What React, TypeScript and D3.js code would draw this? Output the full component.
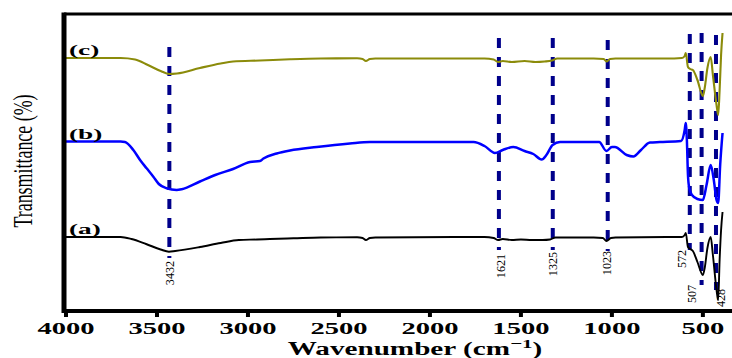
import React from 'react';
import * as d3 from 'd3';

// FTIR spectra, wavenumber (cm-1) vs transmittance (arbitrary offset units)
const curveA: [number, number][] = [
  [4000, 74], [3700, 74], [3640, 72], [3560, 67], [3480, 61.5], [3434, 59.3], [3400, 60],
  [3264, 64], [3150, 68], [3050, 71], [2950, 71.5], [2880, 72], [2750, 72.7], [2600, 73.5],
  [2400, 73.7], [2370, 73], [2352, 71], [2330, 73], [2300, 73.5], [1700, 74], [1650, 73],
  [1625, 71], [1600, 72], [1550, 71], [1500, 71.5], [1440, 71], [1380, 71], [1340, 71.5],
  [1310, 73.5], [1100, 73.5], [1050, 73], [1030, 70], [1005, 73], [980, 73.5], [700, 74],
  [615, 74], [600, 76], [594, 78], [582, 64], [570, 62], [555, 60], [530, 49], [500, 36],
  [490, 43], [475, 63], [457, 74], [445, 56], [425, 21], [416, 11], [408, 51], [400, 81],
  [392, 99],
];

const curveB: [number, number][] = [
  [4000, 169.5], [3700, 169.5], [3676, 169], [3630, 161], [3593, 151], [3557, 142.7],
  [3520, 134.3], [3490, 127], [3447, 122.7], [3392, 121], [3364, 121.7], [3264, 129.5],
  [3180, 136], [3082, 142], [2989, 149], [2934, 150], [2915, 152.5], [2842, 157.5],
  [2769, 160.5], [2622, 164], [2440, 167.5], [2330, 169], [1760, 169], [1700, 165],
  [1643, 158], [1600, 161], [1542, 164], [1480, 160], [1432, 157], [1386, 151.5],
  [1360, 156], [1326, 166], [1285, 169], [1070, 169], [1030, 160], [1000, 164], [984, 164],
  [919, 156], [882, 154.5], [840, 161], [791, 168.5], [736, 169], [620, 170], [600, 181],
  [594, 188], [588, 171], [582, 136], [575, 123], [560, 116], [530, 112], [500, 111],
  [480, 126], [457, 146], [440, 131], [425, 111], [416, 108], [405, 146], [392, 178],
];

const curveC: [number, number][] = [
  [4000, 253], [3700, 253], [3620, 251.5], [3550, 246], [3480, 240], [3432, 237],
  [3390, 237.5], [3264, 243], [3150, 247.5], [3082, 249.5], [2934, 250.5], [2769, 251.7],
  [2600, 252.5], [2400, 252.7], [2370, 252], [2352, 250], [2330, 252], [2300, 252.5],
  [1700, 252.5], [1650, 251.5], [1625, 249], [1600, 250], [1550, 249], [1480, 250],
  [1420, 249], [1370, 249.5], [1330, 250.5], [1300, 252.5], [1100, 252.5], [1045, 252],
  [1030, 249.5], [1010, 252], [980, 252.5], [700, 252.5], [615, 253], [600, 255],
  [594, 258], [582, 244], [570, 242], [555, 241], [530, 231], [500, 215], [490, 223],
  [475, 243], [457, 254], [445, 236], [425, 206], [416, 196], [408, 221], [400, 256],
  [392, 278],
];

const seriesNames = ['(a)', '(b)', '(c)'];
const peaks = [3432, 1621, 1325, 1023, 572, 507, 428];
const xTicks = [4000, 3500, 3000, 2500, 2000, 1500, 1000, 500];

// layout of each peak marker: dashed top, dashed bottom, label dx, label centre y
const peakLayout = [
  { top: 47, bottom: 258, dx: 0, ly: 273 },
  { top: 38, bottom: 250, dx: 2, ly: 266 },
  { top: 38, bottom: 250, dx: 0, ly: 264 },
  { top: 40, bottom: 251, dx: -1, ly: 263 },
  { top: 34, bottom: 250, dx: -8, ly: 259 },
  { top: 33, bottom: 285, dx: -10, ly: 294 },
  { top: 35, bottom: 290, dx: 5, ly: 298 },
];

const W = 732;
const H = 358;
const left = 66;
const top = 14;
const bottom = 311;
const font = '"Liberation Serif", "Times New Roman", serif';

export default function App() {
  const x = d3.scaleLinear().domain([4000, 340]).range([left, W]);
  const y = d3.scaleLinear().domain([0, 297]).range([bottom, top]);
  const line = d3
    .line<[number, number]>()
    .x((d) => x(d[0]))
    .y((d) => y(d[1]))
    .curve(d3.curveMonotoneX);

  const series = [
    { data: curveA, color: '#000000', width: 1.9 },
    { data: curveB, color: '#0000ff', width: 2.5 },
    { data: curveC, color: '#8b8b0a', width: 2.1 },
  ];

  return (
    <svg
      width={W}
      height={H}
      style={{ position: 'absolute', left: 0, top: 0, background: '#fff' }}
      fontFamily={font}
    >
      {/* peak markers */}
      {peaks.map((p, i) => {
        const l = peakLayout[i];
        const px = x(p);
        const lx = px + l.dx;
        return (
          <g key={p}>
            <line
              x1={px}
              x2={px}
              y1={l.top}
              y2={l.bottom}
              stroke="#00008b"
              strokeWidth={4}
              strokeDasharray="10,9"
            />
            <text
              transform={`translate(${lx + 4.5},${l.ly}) rotate(-90) scale(0.9,1)`}
              textAnchor="middle"
              fontSize={13.5}
              fill="#000"
            >
              {p}
            </text>
          </g>
        );
      })}

      {/* spectra */}
      {series.map((s, i) => (
        <path
          key={i}
          d={line(s.data) || ''}
          fill="none"
          stroke={s.color}
          strokeWidth={s.width}
          strokeLinejoin="round"
        />
      ))}

      {/* series labels */}
      {series.map((s, i) => (
        <text
          key={seriesNames[i]}
          transform={`translate(${left + 3},${y(s.data[0][1]) - 3}) scale(1.95,1)`}
          fontSize={14}
          fontWeight="bold"
          fill="#000"
        >
          {seriesNames[i]}
        </text>
      ))}

      {/* frame */}
      <line x1={left - 2} x2={W} y1={top} y2={top} stroke="#000" strokeWidth={3} />
      <line x1={left - 2} x2={left - 2} y1={top - 1.5} y2={bottom + 2} stroke="#000" strokeWidth={5} />
      <line x1={left - 4} x2={W} y1={bottom} y2={bottom} stroke="#000" strokeWidth={4} />

      {/* x ticks */}
      {xTicks.map((t) => (
        <g key={t}>
          <line x1={x(t)} x2={x(t)} y1={bottom} y2={bottom + 6} stroke="#000" strokeWidth={4} />
          <text
            transform={`translate(${x(t)},333.5) scale(1.68,1)`}
            textAnchor="middle"
            fontSize={17}
            fontWeight="bold"
            fill="#000"
          >
            {t}
          </text>
        </g>
      ))}

      {/* axis titles */}
      <text
        transform="translate(415,355) scale(1.62,1)"
        textAnchor="middle"
        fontSize={18}
        fontWeight="bold"
        fill="#000"
      >
        Wavenumber (cm
        <tspan fontSize={13} dy={-7}>−1</tspan>
        <tspan dy={7}>)</tspan>
      </text>
      <text
        transform="translate(32,161) rotate(-90) scale(0.64,1)"
        textAnchor="middle"
        fontSize={28}
        fill="#000"
      >
        Transmittance (%)
      </text>
    </svg>
  );
}
